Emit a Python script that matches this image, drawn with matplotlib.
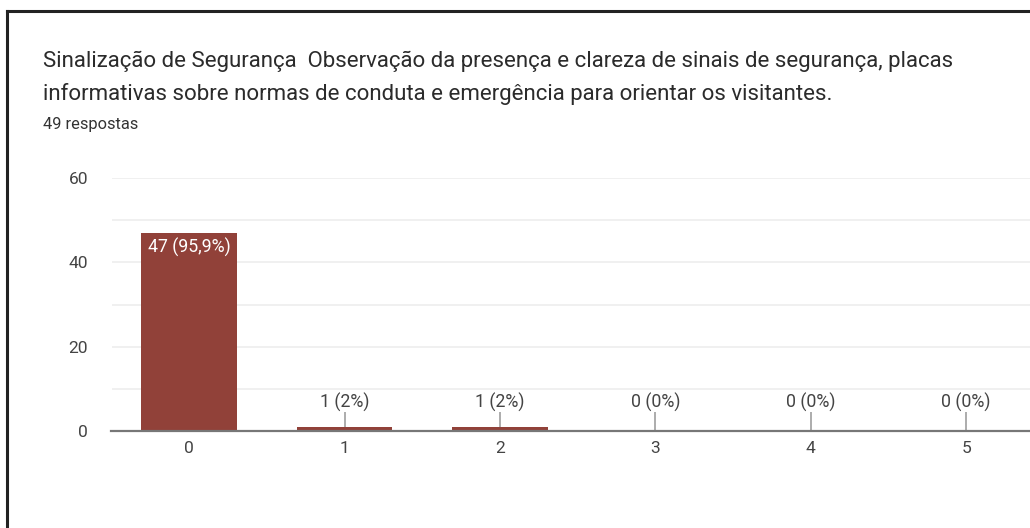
import matplotlib
matplotlib.use("Agg")
import matplotlib.pyplot as plt
from matplotlib.lines import Line2D

plt.rcParams['font.family'] = ['Roboto', 'DejaVu Sans']

# data
categories = ['0', '1', '2', '3', '4', '5']
counts = [47, 1, 1, 0, 0, 0]
labels = ['47 (95,9%)', '1 (2%)', '1 (2%)', '0 (0%)', '0 (0%)', '0 (0%)']
title_lines = ['Sinalização de Segurança  Observação da presença e clareza de sinais de segurança, placas',
               'informativas sobre normas de conduta e emergência para orientar os visitantes.']
subtitle = '49 respostas'

BAR = '#914139'
GRID = '#ededed'
TEXT = '#444444'

W, H = 1030, 528
fig = plt.figure(figsize=(W / 100, H / 100), dpi=100)
fig.patch.set_facecolor('white')

# frame lines (top and left only visible)
fig.add_artist(Line2D([7 / W, 1], [1 - 11 / H, 1 - 11 / H], color='#222222', lw=2.2))
fig.add_artist(Line2D([7 / W, 7 / W], [0, 1 - 11 / H], color='#222222', lw=2.2))

# titles
fig.text(43 / W, 1 - 61 / H, title_lines[0], fontsize=16, color='#2b2b2b', va='center', ha='left')
fig.text(43 / W, 1 - 94 / H, title_lines[1], fontsize=16, color='#2b2b2b', va='center', ha='left')
fig.text(43 / W, 1 - 124 / H, subtitle, fontsize=11.8, color='#333333', va='center', ha='left')

ax = fig.add_axes([111.5 / W, 1 - 431 / H, 1 - 111.5 / W, 253 / H])
x = list(range(len(categories)))
ax.bar(x, counts, width=0.615, color=BAR, zorder=3)
ax.set_xlim(-0.5, -0.5 + (W - 111.5) / 155.4)
ax.set_ylim(0, 60)

ax.set_yticks([0, 20, 40, 60])
ax.set_yticks([10, 30, 50], minor=True)
ax.grid(True, axis='y', which='both', color=GRID, lw=1.2, zorder=0)
ax.tick_params(axis='y', which='both', length=0, pad=17, labelsize=12.5, labelcolor=TEXT)
ax.set_xticks(x)
ax.set_xticklabels(categories)
ax.tick_params(axis='x', length=0, pad=7, labelsize=12.5, labelcolor=TEXT)

for s in ['top', 'right', 'left']:
    ax.spines[s].set_visible(False)
ax.spines['bottom'].set_color('#777777')
ax.spines['bottom'].set_linewidth(1.6)
ax.spines['bottom'].set_zorder(4)

for xi, v, lab in zip(x, counts, labels):
    if v > 10:
        ax.text(xi, v - 1.1, lab, color='white', ha='center', va='top', fontsize=12.8, zorder=5)
    else:
        ax.vlines(xi, v, 4.5, color='#9e9e9e', lw=1.2, zorder=4)
        ax.text(xi, 6.7, lab, color=TEXT, ha='center', va='center', fontsize=12.8, zorder=5)

fig.savefig('out.png', dpi=100, facecolor='white')
